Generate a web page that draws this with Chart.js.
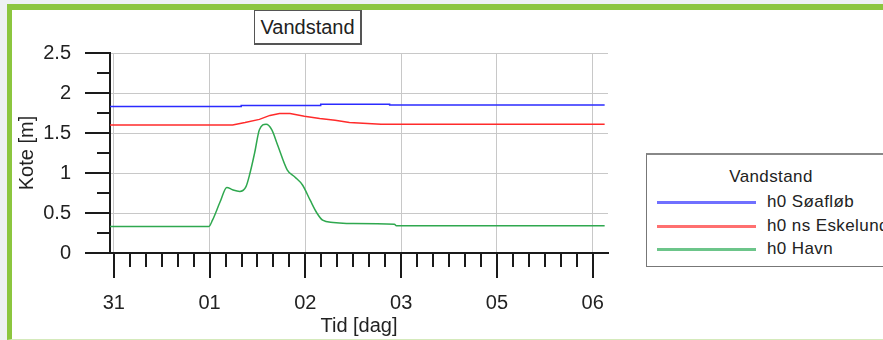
<!DOCTYPE html>
<html>
<head>
<meta charset="utf-8">
<script src="https://cdn.jsdelivr.net/npm/chart.js@4"></script>
<style>
    body { margin: 0; width: 883px; height: 340px; overflow: hidden; background: #eef1f3; font-family: "Liberation Sans", Arial, sans-serif; }
    .panel { position: absolute; left: 7px; top: 4px; width: 900px; height: 329px; background: #fff;
             border-left: 5px solid #8cc63f; border-top: 6px solid #8cc63f; border-bottom: 1px solid #d4eabb; }
    #chart { position: absolute; left: 0; top: 0; }
    .title-box { position: absolute; left: 254px; top: 10px; width: 105px; height: 32px; background: #fff;
                 border: 1px solid #555; border-right-width: 2px; border-bottom-width: 2px;
                 font-size: 20px; color: #222; text-align: center; line-height: 32px; }
    .legend { position: absolute; left: 646px; top: 153px; width: 248px; height: 111px; background: #fff;
              border: 1px solid #777; border-top: 2px solid #888; color: #222; font-size: 17px; }
    .legend .lt { position: absolute; left: 0; width: 248px; top: 12px; text-align: center; letter-spacing: 0.4px; }
    .legend .row { position: absolute; left: 10px; height: 20px; white-space: nowrap; }
    .legend .row i { position: absolute; left: 0; top: 9px; width: 99px; height: 3px; }
    .legend .row span { position: absolute; left: 110px; top: 0; line-height: 20px; letter-spacing: 0.4px; }
</style>
</head>
<body>
<div class="panel"></div>
<canvas id="chart" width="883" height="340"></canvas>
<div class="title-box">Vandstand</div>
<div class="legend" id="legend"><div class="lt">Vandstand</div></div>

<script>
// Axis
const DAY_POS = [0, 1, 2, 3, 4, 5];
const DAY_LABELS = ['31', '01', '02', '03', '05', '06'];
const X_MIN = -0.04;
const X_MAX = 5.16;
const Y_MIN = 0;
const Y_MAX = 2.5;

// Series names / colours
const SERIES_NAMES = ['h0 Søafløb', 'h0 ns Eskelund', 'h0 Havn'];
const SERIES_COLORS = ['#2b2bff', '#ff2b2b', '#2fa84f'];
const LEGEND_COLORS = ['#7070ff', '#ff7070', '#6cc58a'];

// h0 Søafløb (stepped)
const soeX = [-0.04, 1.33, 2.16, 2.88, 5.125];
const soeY = [1.83, 1.845, 1.86, 1.85, 1.85];

// h0 ns Eskelund
const eskX = [-0.04, 1.24, 1.37, 1.52, 1.63, 1.73, 1.84, 1.99, 2.15, 2.31, 2.46, 2.79, 5.125];
const eskY = [1.60, 1.60, 1.63, 1.67, 1.72, 1.745, 1.745, 1.71, 1.68, 1.66, 1.63, 1.61, 1.61];

// h0 Havn
const havX = [-0.04, 0.99, 1.03, 1.11, 1.18, 1.24, 1.315, 1.38, 1.42, 1.47, 1.52, 1.59, 1.65, 1.71,
              1.81, 1.89, 1.97, 2.05, 2.12, 2.18, 2.29, 2.43, 2.93, 2.95, 5.125];
const havY = [0.33, 0.33, 0.41, 0.64, 0.82, 0.79, 0.77, 0.83, 0.99, 1.25, 1.54, 1.61, 1.54, 1.35,
              1.04, 0.95, 0.85, 0.66, 0.50, 0.41, 0.38, 0.37, 0.36, 0.34, 0.34];

const zip = (xs, ys) => xs.map((x, i) => ({ x: x, y: ys[i] }));

// Build legend
const legend = document.getElementById('legend');
SERIES_NAMES.forEach((name, i) => {
    const row = document.createElement('div');
    row.className = 'row';
    row.style.top = (37 + i * 23.5) + 'px';
    row.innerHTML = `<i style="background:${LEGEND_COLORS[i]}"></i><span>${name}</span>`;
    legend.appendChild(row);
});

// Major and minor tick marks (different lengths)
const tickMarks = {
    id: 'tickMarks',
    afterDraw(chart) {
        const { ctx, scales: { x, y } } = chart;
        ctx.save();
        ctx.strokeStyle = '#1a1a1a';
        ctx.lineWidth = 2;
        ctx.beginPath();
        for (let i = 0; i <= 10; i++) {
            const py = Math.round(y.getPixelForValue(i * 0.25));
            const len = i % 2 === 0 ? 25 : 13;
            ctx.moveTo(x.left - len, py);
            ctx.lineTo(x.left, py);
        }
        for (let i = 0; i <= 30; i++) {
            const px = Math.round(x.getPixelForValue(i / 6));
            const len = i % 6 === 0 ? 25 : 14;
            ctx.moveTo(px, y.bottom);
            ctx.lineTo(px, y.bottom + len);
        }
        ctx.stroke();
        ctx.restore();
    }
};

const font20 = { family: '"Liberation Sans", Arial, sans-serif', size: 20 };

new Chart(document.getElementById('chart'), {
    type: 'line',
    data: {
        datasets: [
            { label: SERIES_NAMES[0], data: zip(soeX, soeY), borderColor: SERIES_COLORS[0], stepped: true },
            { label: SERIES_NAMES[1], data: zip(eskX, eskY), borderColor: SERIES_COLORS[1] },
            { label: SERIES_NAMES[2], data: zip(havX, havY), borderColor: SERIES_COLORS[2], cubicInterpolationMode: 'monotone' }
        ]
    },
    options: {
        responsive: false,
        animation: false,
        datasets: { line: { borderWidth: 1.5, pointRadius: 0, fill: false } },
        layout: { padding: { left: 0, top: 53, right: 275, bottom: 0 } },
        plugins: { legend: { display: false }, tooltip: { enabled: false } },
        scales: {
            x: {
                type: 'linear',
                min: X_MIN,
                max: X_MAX,
                afterBuildTicks: s => { s.ticks = DAY_POS.map(v => ({ value: v })); },
                afterFit: s => { s.height = 87; },
                ticks: {
                    autoSkip: false,
                    maxRotation: 0,
                    padding: 38,
                    color: '#222',
                    font: font20,
                    callback: (v, i) => DAY_LABELS[i]
                },
                grid: { color: '#c8c8c8', drawTicks: false },
                border: { color: '#1a1a1a', width: 2 },
                title: { display: true, text: 'Tid [dag]', color: '#222', font: font20, padding: { top: 0, bottom: 2 } }
            },
            y: {
                min: Y_MIN,
                max: Y_MAX,
                afterFit: s => { s.width = 110; },
                ticks: {
                    stepSize: 0.5,
                    padding: 39,
                    color: '#222',
                    font: font20,
                    callback: v => String(v)
                },
                grid: { color: '#c8c8c8', drawTicks: false },
                border: { color: '#1a1a1a', width: 2 },
                title: { display: true, text: 'Kote [m]', color: '#222', font: font20, padding: { top: 15, bottom: 0 } }
            }
        }
    },
    plugins: [tickMarks]
});
</script>
</body>
</html>
